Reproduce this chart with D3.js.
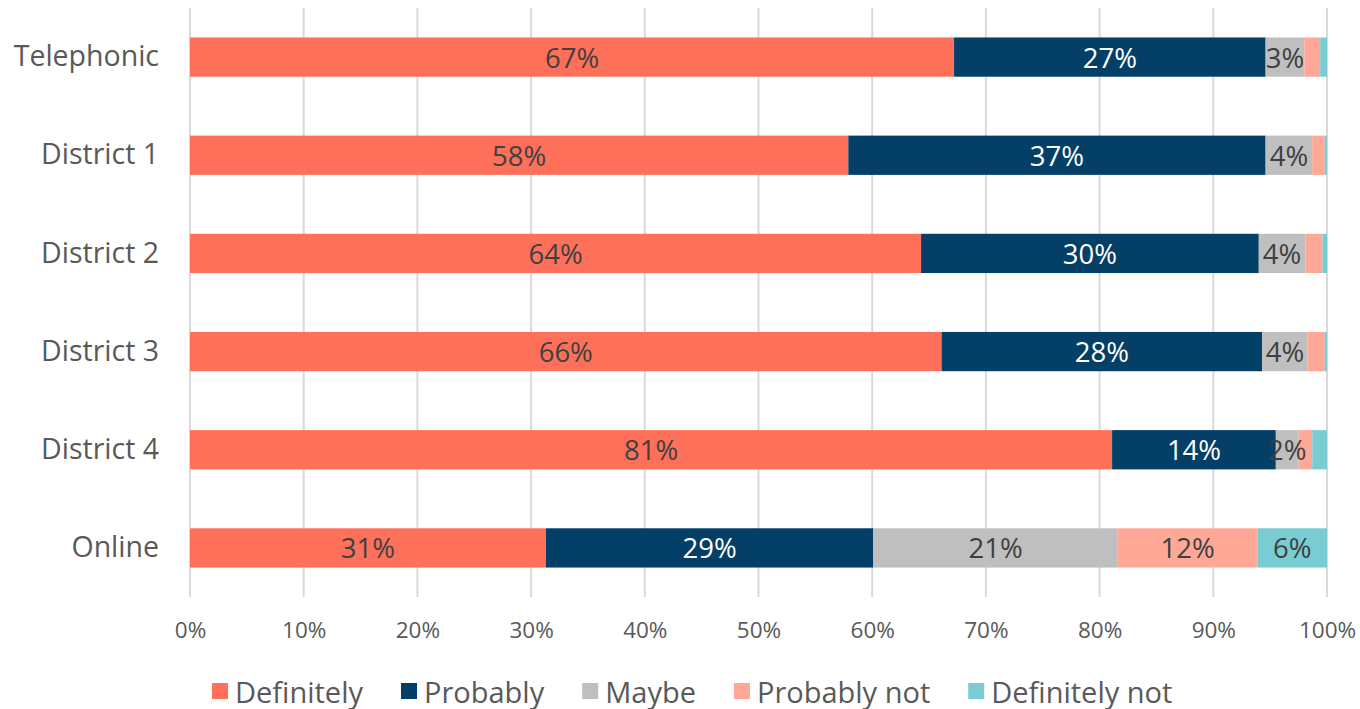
<!DOCTYPE html>
<html lang="en">
<head>
    <meta charset="UTF-8">
    <title>Stacked 100% bars</title>
    <script src="https://cdnjs.cloudflare.com/ajax/libs/d3/7.8.5/d3.min.js"></script>
    <style>
        body { margin: 0; background: #fff; }
        text { font-family: "Open Sans", "Noto Sans", sans-serif; fill: #595959; }
    </style>
</head>
<body>
    <div id="wrapper"></div>
    <script>
        // data (percent of each row)
        const categories = ['Telephonic', 'District 1', 'District 2', 'District 3', 'District 4', 'Online']
        const seriesNames = ['Definitely', 'Probably', 'Maybe', 'Probably not', 'Definitely not']
        const definitely    = [67.2, 57.9, 64.3, 66.1, 81.1, 31.3]
        const probably      = [27.4, 36.7, 29.7, 28.2, 14.4, 28.8]
        const maybe         = [3.4, 4.1, 4.1, 4.0, 2.0, 21.5]
        const probablyNot   = [1.4, 1.1, 1.5, 1.5, 1.2, 12.3]
        const definitelyNot = [0.6, 0.2, 0.4, 0.2, 1.3, 6.1]
        const xTicks = [0, 10, 20, 30, 40, 50, 60, 70, 80, 90, 100]

        const colors = ['#ff705b', '#033f67', '#bfbfbf', '#ffa898', '#79ccd2']
        const labelColors = ['#404040', '#ffffff', '#404040', '#404040', '#404040']

        const dimensions = {
            width: 1360,
            height: 709,
            margin: { top: 8, right: 33, bottom: 112, left: 190 }
        }
        dimensions.boundedWidth = dimensions.width - dimensions.margin.left - dimensions.margin.right
        dimensions.boundedHeight = dimensions.height - dimensions.margin.top - dimensions.margin.bottom

        const table = categories.map((c, i) => ({
            category: c,
            'Definitely': definitely[i],
            'Probably': probably[i],
            'Maybe': maybe[i],
            'Probably not': probablyNot[i],
            'Definitely not': definitelyNot[i]
        }))
        const stacked = d3.stack().keys(seriesNames)(table)

        const svg = d3.select('#wrapper')
            .append('svg')
            .attr('width', dimensions.width)
            .attr('height', dimensions.height)

        const bounds = svg.append('g')
            .attr('transform', `translate(${dimensions.margin.left},${dimensions.margin.top})`)

        const xScale = d3.scaleLinear()
            .domain([0, 100])
            .range([0, dimensions.boundedWidth])

        const yScale = d3.scaleBand()
            .domain(categories)
            .range([0, dimensions.boundedHeight])
            .paddingInner(0.6)
            .paddingOuter(0.3)

        // gridlines
        bounds.append('g')
            .selectAll('line')
            .data(xTicks)
            .join('line')
                .attr('x1', d => xScale(d))
                .attr('x2', d => xScale(d))
                .attr('y1', 0)
                .attr('y2', dimensions.boundedHeight)
                .attr('stroke', '#d9d9d9')
                .attr('stroke-width', 2)

        // bars
        const layers = bounds.append('g')
            .selectAll('g')
            .data(stacked)
            .join('g')
                .attr('fill', (d, i) => colors[i])

        layers.selectAll('rect')
            .data(d => d)
            .join('rect')
                .attr('x', d => xScale(d[0]))
                .attr('y', d => yScale(d.data.category))
                .attr('width', d => xScale(d[1]) - xScale(d[0]))
                .attr('height', yScale.bandwidth())

        // data labels (tiny segments get none)
        const labels = bounds.append('g')
        stacked.forEach((layer, si) => {
            labels.selectAll(null)
                .data(layer.filter(d => d[1] - d[0] >= 1.8))
                .join('text')
                    .attr('x', d => xScale((d[0] + d[1]) / 2))
                    .attr('y', d => yScale(d.data.category) + yScale.bandwidth() / 2)
                    .attr('text-anchor', 'middle')
                    .attr('dominant-baseline', 'central')
                    .style('font-size', '27.5px')
                    .style('fill', labelColors[si])
                    .text(d => Math.round(d[1] - d[0]) + '%')
        })

        // y axis labels
        const yAxis = bounds.append('g')
            .call(d3.axisLeft(yScale).tickSize(0).tickPadding(31))
        yAxis.select('.domain').remove()
        yAxis.selectAll('text')
            .style('font-size', '28.5px')

        // x axis
        const xAxis = bounds.append('g')
            .attr('transform', `translate(0,${dimensions.boundedHeight})`)
            .call(d3.axisBottom(xScale).tickValues(xTicks).tickSize(0).tickPadding(25).tickFormat(d => d + '%'))
        xAxis.select('.domain').remove()
        xAxis.selectAll('text')
            .style('font-size', '22.5px')

        // legend
        const legend = svg.append('g')
            .attr('transform', 'translate(212,691)')
        let lx = 0
        seriesNames.forEach((name, i) => {
            const item = legend.append('g').attr('transform', `translate(${lx},0)`)
            item.append('rect')
                .attr('x', 0)
                .attr('y', -8)
                .attr('width', 16)
                .attr('height', 16)
                .attr('fill', colors[i])
            const t = item.append('text')
                .attr('x', 23)
                .attr('y', 0)
                .attr('dominant-baseline', 'central')
                .style('font-size', '29px')
                .text(name)
            lx += 23 + t.node().getComputedTextLength() + 38
        })
    </script>
</body>
</html>
